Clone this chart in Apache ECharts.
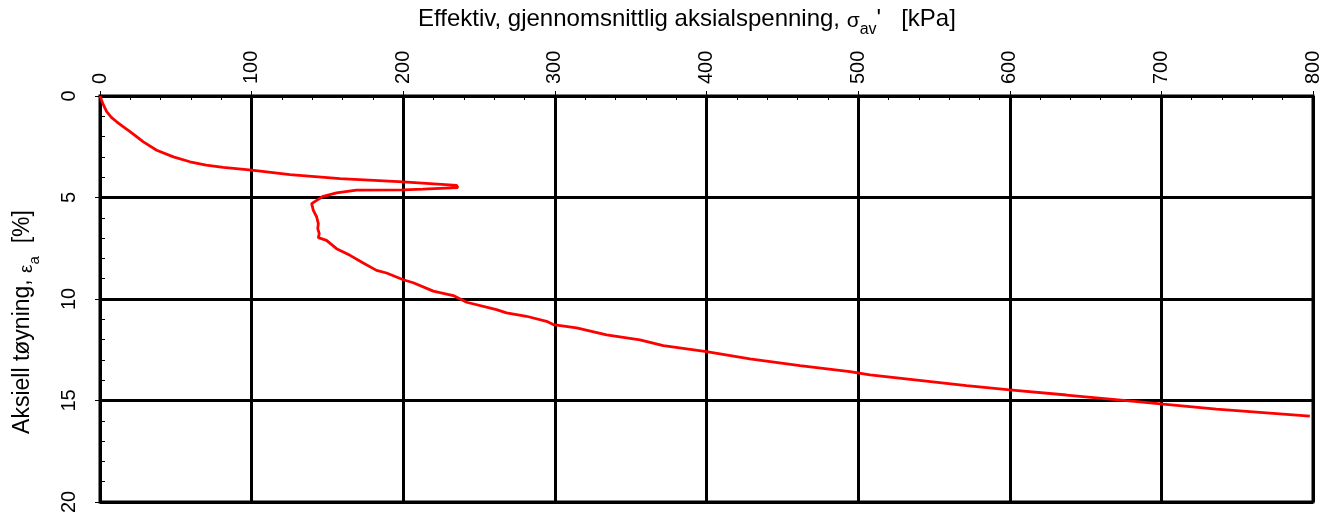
<!DOCTYPE html>
<html>
<head>
<meta charset="utf-8">
<script src="https://cdn.jsdelivr.net/npm/echarts@6/dist/echarts.min.js"></script>
<style>html,body{margin:0;padding:0;background:#fff}#c{width:1335px;height:518px}</style>
</head>
<body>
<div id="c"></div>
<script>
// Effective mean axial stress [kPa]
var stress = [0, 2, 4.4, 7.5, 11, 15, 19.8, 28.6, 37.4, 48.4, 59.3, 70, 81.3, 100, 125.3, 158.3, 200, 235.2, 236, 213, 200, 169.2, 156, 147.2, 142.9, 139.6, 140.7, 142.9, 144, 143.6, 144.6, 144, 149.4, 156, 164.9, 173.6, 182.4, 189, 200, 206.6, 219.8, 233, 241.8, 261.5, 268.1, 281.3, 294.5, 298.9, 314.3, 334.1, 356.1, 371.5, 400, 428.6, 461.6, 494.6, 507.8, 571.5, 600, 637.4, 677, 701.2, 736.3, 797.9];
// Axial strain [%]
var strain = [0, 0.4, 0.77, 1.05, 1.27, 1.5, 1.76, 2.26, 2.67, 3.0, 3.24, 3.4, 3.52, 3.65, 3.87, 4.07, 4.23, 4.4, 4.51, 4.59, 4.62, 4.64, 4.77, 4.94, 5.14, 5.3, 5.63, 5.96, 6.29, 6.53, 6.78, 6.98, 7.11, 7.52, 7.85, 8.23, 8.59, 8.72, 9.05, 9.2, 9.61, 9.83, 10.16, 10.52, 10.68, 10.85, 11.1, 11.26, 11.42, 11.77, 12.01, 12.3, 12.59, 12.95, 13.28, 13.58, 13.74, 14.27, 14.48, 14.73, 15.01, 15.18, 15.42, 15.77];
var xTickLabels = ['0','100','200','300','400','500','600','700','800'];
var yTickLabels = ['0','5','10','15','20'];
var xTitle = 'Effektiv, gjennomsnittlig aksialspenning, ';
var yTitle = 'Aksiell tøyning, ';

var FONT = 'Liberation Sans, Arial, sans-serif';
var chart = echarts.init(document.getElementById('c'), null, {renderer: 'canvas'});
var pts = stress.map(function (s, i) { return [s, strain[i]]; });
function richSub(g, s) {
  return {
    g: {fontSize: g, fontFamily: FONT, fill: '#000', verticalAlign: 'bottom', lineHeight: 26},
    s: {fontSize: s, fontFamily: FONT, fill: '#000', verticalAlign: 'bottom', lineHeight: 22, padding: [0, 0, -6, 0]}
  };
}

chart.setOption({
  animation: false,
  backgroundColor: '#fff',
  grid: {left: 100, right: 22, top: 96, bottom: 16, show: true, borderColor: '#000', borderWidth: 3, backgroundColor: 'transparent'},
  xAxis: [{
    type: 'value', position: 'top', min: 0, max: 800, interval: 100,
    axisLine: {show: true, lineStyle: {color: '#000', width: 3}},
    axisTick: {show: true, inside: false, length: 5, lineStyle: {color: '#000', width: 1}},
    axisLabel: {rotate: 90, margin: 12, fontSize: 20, color: '#000', fontFamily: FONT,
      formatter: function (v) { return xTickLabels[Math.round(v / 100)]; }},
    splitLine: {show: true, lineStyle: {color: '#000', width: 3}}
  }, {
    type: 'value', position: 'top', min: 0, max: 800, interval: 20,
    axisLine: {show: false}, axisLabel: {show: false}, splitLine: {show: false},
    axisTick: {show: true, inside: true, length: 4, lineStyle: {color: '#000', width: 1}}
  }],
  yAxis: [{
    type: 'value', inverse: true, min: 0, max: 20, interval: 5,
    axisLine: {show: true, lineStyle: {color: '#000', width: 3}},
    axisTick: {show: true, inside: false, length: 5, lineStyle: {color: '#000', width: 1}},
    axisLabel: {rotate: 90, margin: 21, fontSize: 20, color: '#000', fontFamily: FONT,
      formatter: function (v) { return yTickLabels[Math.round(v / 5)]; }},
    splitLine: {show: true, lineStyle: {color: '#000', width: 3}}
  }, {
    type: 'value', inverse: true, min: 0, max: 20, interval: 1, position: 'left',
    axisLine: {show: false}, axisLabel: {show: false}, splitLine: {show: false},
    axisTick: {show: true, inside: true, length: 5, lineStyle: {color: '#000', width: 1}}
  }],
  graphic: [{
    type: 'text', left: 418, top: 7,
    style: {
      text: xTitle + '{g|σ}{s|av}\'   [kPa]',
      font: '24px ' + FONT, fill: '#000',
      rich: richSub(21, 16)
    }
  }, {
    type: 'text', x: 23, y: 322, rotation: Math.PI / 2,
    style: {
      text: yTitle + '{g|ε}{s|a}  [%]',
      font: '23px ' + FONT, fill: '#000', align: 'center', verticalAlign: 'middle',
      rich: richSub(19, 15)
    }
  }],
  series: [{
    type: 'line', xAxisIndex: 0, yAxisIndex: 0, data: pts,
    showSymbol: false, smooth: false,
    lineStyle: {color: '#ff0000', width: 2.8}
  }]
});
</script>
</body>
</html>
